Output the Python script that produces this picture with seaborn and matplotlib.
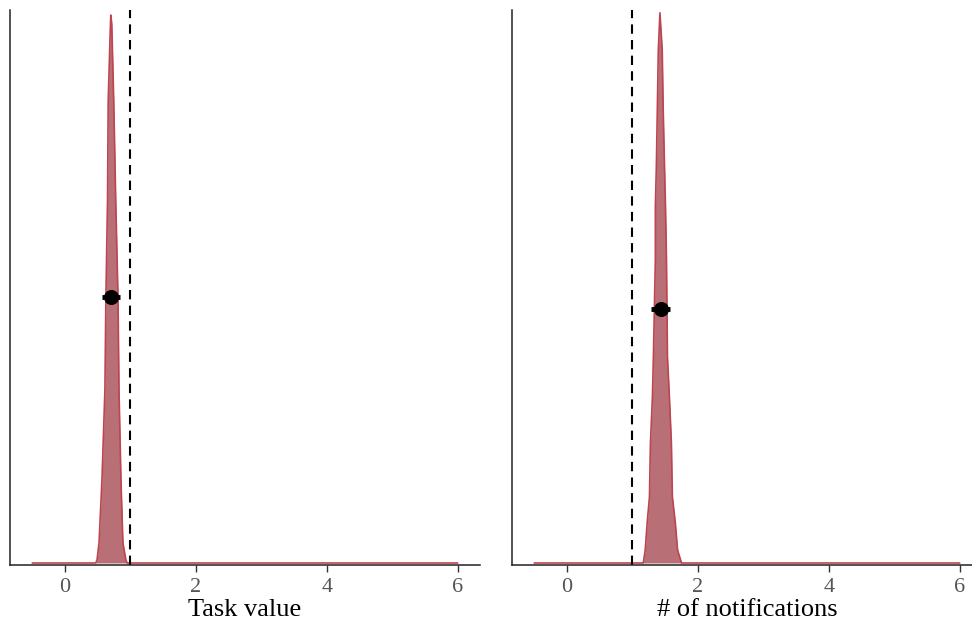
import matplotlib
matplotlib.use('Agg')
import matplotlib.pyplot as plt
import seaborn as sns
import pandas as pd

# density curves (x, height)
task_x = [-0.5, 0.47, 0.49, 0.52, 0.565, 0.61, 0.625, 0.65, 0.66, 0.69, 0.70,
          0.715, 0.745, 0.775, 0.81, 0.825, 0.855, 0.885, 0.93, 0.95, 6.0]
task_y = [0.0, 0.0, 0.07, 0.44, 1.82, 3.79, 5.82, 7.95, 10.1, 11.6, 12.0,
          11.8, 10.1, 7.95, 5.82, 3.79, 1.82, 0.44, 0.07, 0.0, 0.0]

notif_x = [-0.5, 1.165, 1.195, 1.225, 1.26, 1.275, 1.305, 1.32, 1.35, 1.35, 1.365,
           1.38, 1.395, 1.42, 1.455, 1.47, 1.49, 1.505, 1.52, 1.535, 1.565,
           1.595, 1.61, 1.655, 1.69, 1.75, 6.0]
notif_y = [0.0, 0.0, 0.28, 0.88, 1.45, 2.63, 3.63, 4.51, 6.63, 7.80, 8.67,
           9.92, 11.23, 12.05, 11.23, 9.92, 8.67, 7.80, 6.63, 4.51, 3.63,
           2.63, 1.45, 0.88, 0.28, 0.0, 0.0]

# point estimates with intervals
est = [0.70, 1.43]
est_y = [5.82, 5.56]
lo = [0.56, 1.29]
hi = [0.84, 1.57]
ref_line = 1
labels = ['Task value', '# of notifications']
xticks = [0, 2, 4, 6]

sns.set_style('white')
plt.rcParams['font.family'] = ['Liberation Serif', 'DejaVu Serif']

fig = plt.figure(figsize=(9.72, 6.26), dpi=100)
axes = [fig.add_axes([10/972, 61/626, 470/972, 555/626]),
        fig.add_axes([512/972, 61/626, 470/972, 555/626])]

curves = [(task_x, task_y), (notif_x, notif_y)]
for i, ax in enumerate(axes):
    df = pd.DataFrame({'x': curves[i][0], 'y': curves[i][1]})
    ax.fill_between(df.x, df.y, color='#b87076', lw=0)
    sns.lineplot(data=df, x='x', y='y', ax=ax, color='#bd4450', lw=1.2,
                 sort=False, estimator=None)
    ax.axvline(ref_line, color='black', ls=(0, (4.5, 3)), lw=1.5)
    ax.hlines(est_y[i], lo[i], hi[i], color='black', lw=3.5)
    sns.scatterplot(x=[est[i]], y=[est_y[i]], ax=ax, color='black', s=100,
                    edgecolor='black', zorder=5)
    ax.set_xlim(-0.84, 6.34)
    ax.set_ylim(-0.044, 12.11)
    ax.set_xticks(xticks)
    ax.set_yticks([])
    ax.set_ylabel('')
    ax.set_xlabel(labels[i], fontsize=19, color='black', labelpad=2)
    ax.tick_params(axis='x', length=5, width=1, color='#333333',
                   labelsize=16, labelcolor='#555555', pad=4, bottom=True)
    sns.despine(ax=ax)
    for s in ['left', 'bottom']:
        ax.spines[s].set_color('#222222')
        ax.spines[s].set_linewidth(1.1)

fig.savefig('out.png', dpi=100)
